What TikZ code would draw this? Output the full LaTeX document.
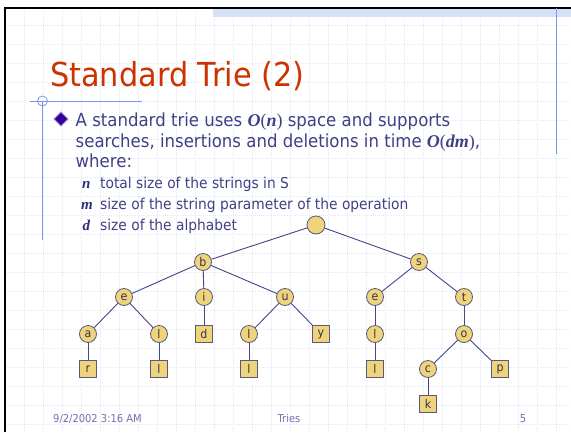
\documentclass[tikz,border=0pt]{standalone}
\usepackage{fontspec}
\setmainfont{DejaVu Sans}[FakeStretch=0.92]
\newfontfamily\tms{Liberation Serif}
\definecolor{titlecol}{HTML}{CC3300}
\definecolor{bodycol}{HTML}{404085}
\definecolor{mathcol}{HTML}{2E2E80}
\definecolor{footcol}{HTML}{7070B0}
\definecolor{gridcol}{HTML}{E2E8F8}
\definecolor{guidecol}{HTML}{7F96EE}
\definecolor{bandcol}{HTML}{D6E0F8}
\definecolor{nodefill}{HTML}{F0D47C}
\definecolor{nodeborder}{HTML}{5A5A80}
\definecolor{edgecol}{HTML}{45458A}
\definecolor{nodetext}{HTML}{333355}
\definecolor{bulletcol}{HTML}{330099}
\newcommand\bi[1]{{\tms\bfseries\itshape #1}}
\newcommand\rp[1]{{\tms #1}}
\begin{document}
\begin{tikzpicture}[x=1pt,y=-1pt,
  gridline/.style={draw=gridcol, line width=0.6pt, dash pattern=on 1pt off 1pt},
  guide/.style={draw=guidecol, line width=0.9pt},
  inner/.style={circle, draw=nodeborder, fill=nodefill, minimum size=17pt, inner sep=0pt, line width=0.8pt, font=\fontsize{12}{12}\selectfont, text=nodetext},
  leaf/.style={rectangle, draw=nodeborder, fill=nodefill, minimum size=17pt, inner sep=0pt, line width=0.8pt, font=\fontsize{12}{12}\selectfont, text=nodetext},
  link/.style={draw=edgecol, line width=0.9pt},
  bodytext/.style={anchor=base west, inner sep=0pt, text=bodycol, font=\fontsize{18}{18}\selectfont},
  subtext/.style={anchor=base west, inner sep=0pt, text=bodycol, font=\fontsize{15}{15}\selectfont},
  foot/.style={anchor=base, inner sep=0pt, text=footcol, font=\fontsize{10.8}{10.8}\selectfont}]
\useasboundingbox (0,0) rectangle (571,432);
\fill[white] (0,0) rectangle (571,432);
% grid
\foreach \x in {24,43,...,570} \draw[gridline] (\x,8) -- (\x,432);
\foreach \y in {25,44,...,432} \draw[gridline] (5,\y) -- (571,\y);
% top band and frame
\fill[bandcol] (213,9) rectangle (571,16.5);
\draw[black, line width=2pt] (5,432) -- (5,7.5) -- (571,7.5);
% guides
\draw[guide] (556,8) -- (556,154);
\draw[guide] (30,101) -- (142,101);
\draw[guide] (42.5,101) -- (42.5,240);
\draw[guidecol, line width=0.8pt] (42.5,101) circle (5);
% title
\node[anchor=base west, inner sep=0pt, text=titlecol, font=\fontsize{33}{33}\selectfont] (title) at (50,86) {Standard Trie (2)};
% bullet
\filldraw[fill=bulletcol, draw=bulletcol!45, line width=0.8pt] (54,119) -- (61,112) -- (68,119) -- (61,126) -- cycle;
\node[bodytext] (l1) at (75.5,126) {A standard trie uses \bi{O}\rp{(}\bi{n}\rp{)} space and supports};
\node[bodytext] (l2) at (75.5,147) {searches, insertions and deletions in time \bi{O}\rp{(}\bi{dm}\rp{)},};
\node[bodytext] (l3) at (75.5,167.5) {where:};
\node[subtext, text=mathcol] (s1k) at (82,188.5) {\bi{n}};
\node[subtext] (s1) at (100,188.5) {total size of the strings in S};
\node[subtext, text=mathcol] (s2k) at (81,209.5) {\bi{m}};
\node[subtext] (s2) at (100,209.5) {size of the string parameter of the operation};
\node[subtext, text=mathcol] (s3k) at (82.5,230) {\bi{d}};
\node[subtext] (s3) at (100,230) {size of the alphabet};
% tree
\node[inner, minimum size=18pt] (root) at (316,225) {};
\node[inner] (b) at (203,262) {b};
\node[inner] (s) at (419,262) {s};
\node[inner] (e1) at (124,297) {e};
\node[inner] (i) at (204,297) {i};
\node[inner] (u) at (285,297) {u};
\node[inner] (e2) at (375,297) {e};
\node[inner] (t) at (464,297) {t};
\node[inner] (a) at (88,334) {a};
\node[inner] (l1n) at (159,334) {l};
\node[leaf] (d) at (204,334) {d};
\node[inner] (l2n) at (249,334) {l};
\node[leaf] (y) at (321,334) {y};
\node[inner] (l3n) at (375,334) {l};
\node[inner] (o) at (464,334) {o};
\node[leaf] (r) at (88,369) {r};
\node[leaf] (l1l) at (159,369) {l};
\node[leaf] (l2l) at (249,369) {l};
\node[leaf] (l3l) at (375,369) {l};
\node[inner] (c) at (428,369) {c};
\node[leaf] (p) at (500,369) {p};
\node[leaf] (k) at (428,404) {k};
\foreach \u/\v in {root/b, root/s, b/e1, b/i, b/u, s/e2, s/t, e1/a, e1/l1n, i/d, u/l2n, u/y, e2/l3n, t/o, a/r, l1n/l1l, l2n/l2l, l3n/l3l, o/c, o/p, c/k}
  \draw[link] (\u) -- (\v);
% footer
\node[foot, anchor=base west] (date) at (53,422) {9/2/2002 3:16 AM};
\node[foot] (tries) at (289,422) {Tries};
\node[foot] (num) at (523,422) {5};
\end{tikzpicture}
\end{document}
